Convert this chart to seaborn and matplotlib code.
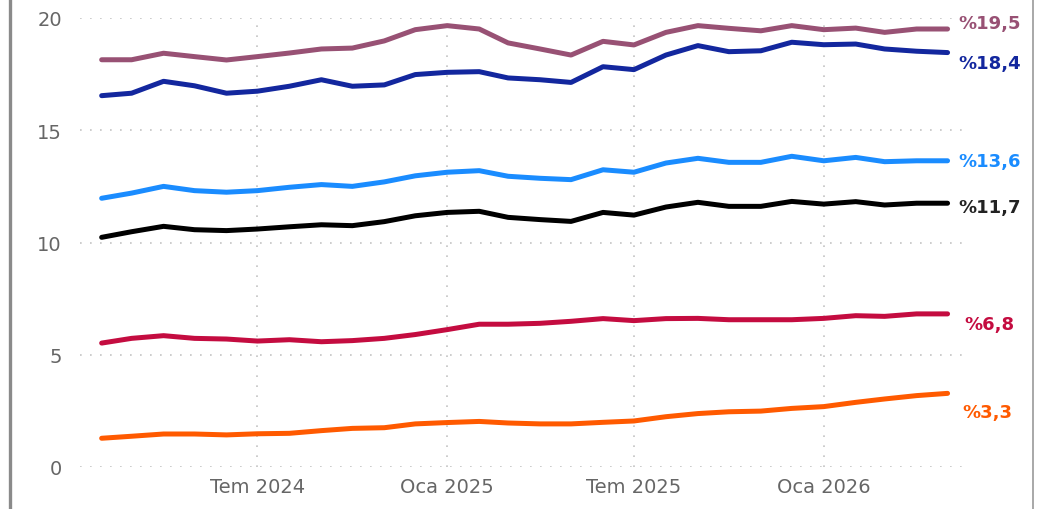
import pandas as pd
import matplotlib.pyplot as plt
import seaborn as sns
from matplotlib.lines import Line2D

# Aylık seriler (Şub 2024 - May 2026)
months = pd.date_range('2024-02-01', periods=28, freq='MS')

seri_mor = [18.14, 18.14, 18.43, 18.28, 18.13, 18.28, 18.44, 18.62, 18.66, 18.98,
            19.48, 19.66, 19.51, 18.89, 18.62, 18.35, 18.96, 18.80, 19.36, 19.66,
            19.54, 19.43, 19.66, 19.48, 19.55, 19.36, 19.51, 19.51]
seri_lacivert = [16.54, 16.65, 17.18, 16.98, 16.65, 16.74, 16.96, 17.25, 16.96, 17.02,
                 17.48, 17.58, 17.61, 17.33, 17.25, 17.13, 17.83, 17.70, 18.35, 18.77,
                 18.50, 18.54, 18.92, 18.81, 18.84, 18.62, 18.52, 18.46]
seri_mavi = [11.97, 12.20, 12.50, 12.31, 12.24, 12.31, 12.46, 12.58, 12.50, 12.70,
             12.97, 13.13, 13.20, 12.95, 12.86, 12.80, 13.24, 13.13, 13.54, 13.75,
             13.57, 13.57, 13.84, 13.64, 13.79, 13.60, 13.64, 13.64]
seri_siyah = [10.23, 10.48, 10.72, 10.57, 10.53, 10.60, 10.70, 10.79, 10.75, 10.93,
              11.19, 11.34, 11.39, 11.12, 11.02, 10.94, 11.34, 11.22, 11.58, 11.79,
              11.61, 11.61, 11.83, 11.71, 11.82, 11.67, 11.75, 11.75]
seri_kirmizi = [5.52, 5.73, 5.85, 5.73, 5.70, 5.61, 5.67, 5.58, 5.63, 5.73,
                5.90, 6.12, 6.36, 6.36, 6.40, 6.49, 6.61, 6.52, 6.61, 6.62,
                6.56, 6.56, 6.56, 6.62, 6.74, 6.71, 6.82, 6.82]
seri_turuncu = [1.28, 1.37, 1.47, 1.47, 1.43, 1.48, 1.50, 1.62, 1.72, 1.75,
                1.92, 1.98, 2.03, 1.96, 1.92, 1.92, 1.99, 2.05, 2.24, 2.38,
                2.46, 2.49, 2.61, 2.69, 2.88, 3.03, 3.18, 3.28]

series_names = ['mor', 'lacivert', 'mavi', 'siyah', 'kirmizi', 'turuncu']
end_labels = ['%19,5', '%18,4', '%13,6', '%11,7', '%6,8', '%3,3']
colors = ['#985174', '#13279E', '#1A8CFF', '#000000', '#C40C40', '#FF5A00']
label_colors = ['#985174', '#13279E', '#1A8CFF', '#222222', '#C40C40', '#FF5A00']
label_offsets = [(11, 6), (11, -10), (11, 0), (11, -4), (17, -10), (15, -19)]

xtick_dates = pd.to_datetime(['2024-07-01', '2025-01-01', '2025-07-01', '2026-01-01'])
xtick_labels = ['Tem 2024', 'Oca 2025', 'Tem 2025', 'Oca 2026']
yticks = [0, 5, 10, 15, 20]

all_series = [seri_mor, seri_lacivert, seri_mavi, seri_siyah, seri_kirmizi, seri_turuncu]
df = pd.concat([pd.DataFrame({'tarih': months, 'deger': vals, 'seri': name})
                for name, vals in zip(series_names, all_series)])

sns.set_style('white')
plt.rcParams['font.family'] = ['DejaVu Sans']

fig = plt.figure(figsize=(10.44, 5.10), dpi=100)
ax = fig.add_axes([80 / 1044, 42 / 510, 882 / 1044, 449 / 510])

sns.lineplot(data=df, x='tarih', y='deger', hue='seri', palette=dict(zip(series_names, colors)),
             linewidth=3.6, legend=False, ax=ax, solid_capstyle='round', solid_joinstyle='round')

# Seri sonu etiketleri
for name, lab, col, off in zip(series_names, end_labels, label_colors, label_offsets):
    last = df[df['seri'] == name].iloc[-1]
    ax.annotate(lab, xy=(last['tarih'], last['deger']), xytext=off, textcoords='offset pixels',
                ha='left', va='center', color=col, fontsize=13, fontweight='bold',
                annotation_clip=False)

ax.set_xlim(pd.Timestamp('2024-01-11'), pd.Timestamp('2026-05-15'))
ax.set_ylim(0, 20)
ax.set_xticks(xtick_dates)
ax.set_xticklabels(xtick_labels)
ax.set_yticks(yticks)
ax.set_xlabel('')
ax.set_ylabel('')
ax.tick_params(axis='both', length=0, labelsize=14, labelcolor='#666666')
ax.tick_params(axis='x', pad=7)
ax.tick_params(axis='y', pad=13)
ax.grid(True, linestyle=(0, (1, 5)), linewidth=1.2, color='#c4c4c4')
ax.set_axisbelow(True)
for sp in ax.spines.values():
    sp.set_visible(False)

# Çerçeve çizgileri
fig.add_artist(Line2D([9.5 / 1044, 9.5 / 1044], [0, 1], transform=fig.transFigure,
                      color='#8a8a8a', linewidth=2.4))
fig.add_artist(Line2D([1033 / 1044, 1033 / 1044], [0, 1], transform=fig.transFigure,
                      color='#9a9a9a', linewidth=1.2))

plt.savefig('out.png', dpi=100)
